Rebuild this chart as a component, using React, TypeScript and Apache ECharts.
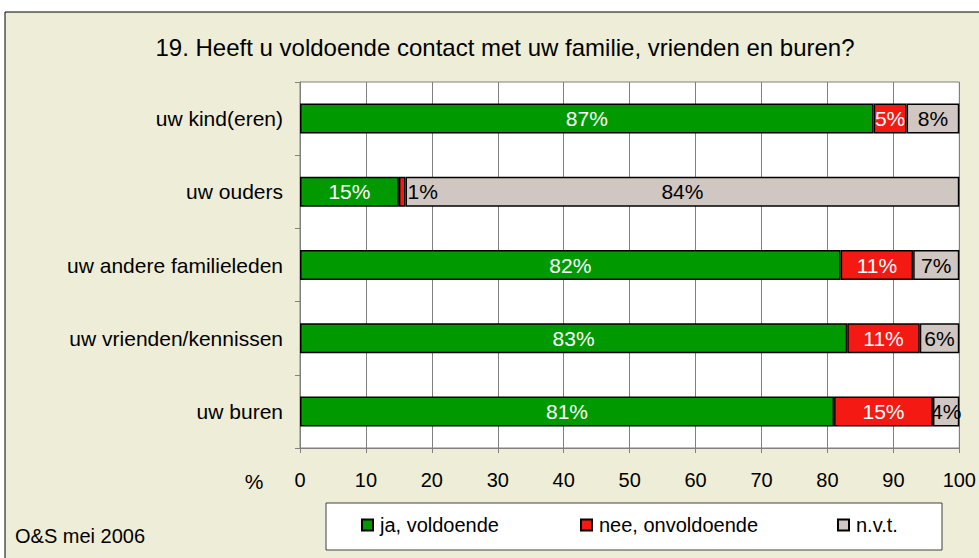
import React, { useEffect, useRef } from "react";
import * as echarts from "echarts";

const categories = ["uw kind(eren)", "uw ouders", "uw andere familieleden", "uw vrienden/kennissen", "uw buren"];
const seriesNames = ["ja, voldoende", "nee, onvoldoende", "n.v.t."];
const jaValues = [87, 15, 82, 83, 81];
const neeValues = [5, 1, 11, 11, 15];
const nvtValues = [8, 84, 7, 6, 4];
const xTicks = [0, 10, 20, 30, 40, 50, 60, 70, 80, 90, 100];
const titleText = "19. Heeft u voldoende contact met uw familie, vrienden en buren?";
const sourceText = "O&S mei 2006";

const FONT = "Liberation Sans, Arial, sans-serif";
const colors = ["#009900", "#F41A13", "#D0C6C2"];
const legendLefts = [361, 580, 837];

export default function App() {
  const ref = useRef<HTMLDivElement>(null);
  useEffect(() => {
    if (!ref.current) return;
    const chart = echarts.init(ref.current, undefined, { renderer: "svg" });
    const labelColors = ["#ffffff", "#ffffff", "#000000"];
    const allValues = [jaValues, neeValues, nvtValues];
    const series = allValues.map((vals, si) => ({
      name: seriesNames[si],
      type: "bar",
      stack: "total",
      barWidth: 30,
      itemStyle: { color: colors[si], borderColor: "#000", borderWidth: 1.5 },
      label: {
        show: true,
        position: "inside",
        formatter: "{c}%",
        fontFamily: FONT,
        fontSize: 21,
        color: labelColors[si],
      },
      data: vals.map((v) => {
        if (si === 1 && v < 3) {
          return { value: v, label: { position: "right", distance: 2, color: "#000" } };
        }
        return v;
      }),
    }));
    chart.setOption({
      animation: false,
      backgroundColor: "#ffffff",
      textStyle: { fontFamily: FONT },
      grid: {
        left: 300,
        right: 19,
        top: 82,
        bottom: 110,
        show: true,
        backgroundColor: "#ffffff",
        borderColor: "#808080",
        borderWidth: 1,
        containLabel: false,
      },
      graphic: [
        {
          type: "rect",
          z: -10,
          shape: { x: 5, y: 12, width: 1000, height: 600 },
          style: { fill: "#EEEDD8", stroke: "#000", lineWidth: 1 },
        },
        {
          type: "text",
          x: 505,
          y: 47,
          style: { text: titleText, fontFamily: FONT, fontSize: 24, fill: "#000", align: "center", verticalAlign: "middle" },
        },
        {
          type: "text",
          x: 254,
          y: 481,
          style: { text: "%", fontFamily: FONT, fontSize: 21, fill: "#000", align: "center", verticalAlign: "middle" },
        },
        {
          type: "text",
          x: 15,
          y: 536,
          style: { text: sourceText, fontFamily: FONT, fontSize: 20, fill: "#000", align: "left", verticalAlign: "middle" },
        },
        {
          type: "rect",
          z: -5,
          shape: { x: 326, y: 503, width: 616, height: 47 },
          style: { fill: "#fff", stroke: "#404040", lineWidth: 1 },
        },
      ],
      legend: seriesNames.map((name, i) => ({
        left: legendLefts[i],
        top: 515,
        padding: 0,
        itemWidth: 11,
        itemHeight: 11,
        icon: "rect",
        textStyle: { fontFamily: FONT, fontSize: 20, color: "#000", padding: [0, 0, 0, 2] },
        data: [name],
      })),
      xAxis: {
        type: "value",
        min: 0,
        max: 100,
        interval: 10,
        axisLine: { show: true, lineStyle: { color: "#808080" } },
        axisTick: { show: true, length: 5, lineStyle: { color: "#808080" } },
        splitLine: { show: true, lineStyle: { color: "#808080", width: 1 } },
        axisLabel: {
          fontFamily: FONT,
          fontSize: 20,
          color: "#000",
          margin: 22,
          formatter: (v: number) => (xTicks.includes(v) ? String(v) : ""),
        },
      },
      yAxis: {
        type: "category",
        inverse: true,
        data: categories,
        axisLine: { show: true, lineStyle: { color: "#808080" } },
        axisTick: { show: true, length: 5, lineStyle: { color: "#808080" } },
        axisLabel: { fontFamily: FONT, fontSize: 21, color: "#000", margin: 17 },
      },
      series,
    });
    return () => chart.dispose();
  }, []);
  return <div ref={ref} style={{ position: "fixed", left: 0, top: 0, width: 979, height: 558 }} />;
}
